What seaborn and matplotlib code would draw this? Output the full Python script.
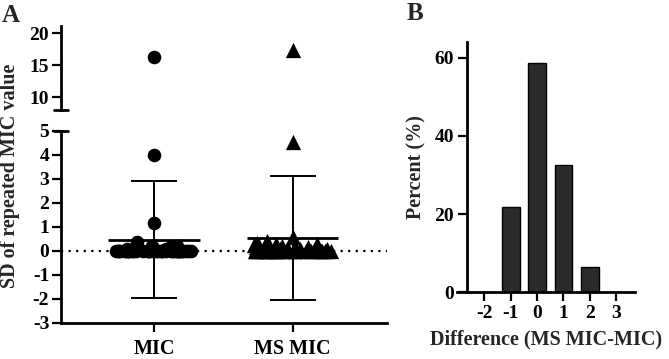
import numpy as np
import pandas as pd
import matplotlib
matplotlib.use("Agg")
import matplotlib.pyplot as plt
import seaborn as sns

# -----------------------------
# data
# -----------------------------
groups = ["MIC", "MS MIC"]

# SD of repeated MIC values, panel A
mic_sd = [16.2, 4.0, 1.15, 0.38, 0.2, 0.2, 0.15, 0.1, 0.1] + [0.0] * 38
ms_mic_sd = ([17.3, 4.55, 0.57, 0.4, 0.35, 0.3, 0.3, 0.25, 0.25,
              0.2, 0.2, 0.2, 0.15, 0.15, 0.15, 0.1, 0.1, 0.1, 0.1, 0.1]
             + [0.0] * 27)

# panel B: difference (MS MIC - MIC) distribution
diff_labels = ["-2", "-1", "0", "1", "2", "3"]
diff_percent = [0.0, 21.7, 58.7, 32.6, 6.5, 0.0]

markers = {"MIC": "o", "MS MIC": "^"}
marker_sizes = {"MIC": 9.8, "MS MIC": 11.0}

# -----------------------------
# style
# -----------------------------
sns.set_theme(style="ticks")
plt.rcParams["font.family"] = ["Liberation Serif", "DejaVu Serif"]
plt.rcParams["font.weight"] = "bold"
plt.rcParams["axes.labelweight"] = "bold"
plt.rcParams["axes.unicode_minus"] = False
plt.rcParams["axes.linewidth"] = 2.0
plt.rcParams["xtick.major.width"] = 1.6
plt.rcParams["ytick.major.width"] = 1.6
plt.rcParams["xtick.major.size"] = 6.5
plt.rcParams["ytick.major.size"] = 6.5
plt.rcParams["xtick.color"] = "black"
plt.rcParams["ytick.color"] = "black"
plt.rcParams["axes.edgecolor"] = "black"

TICK_FS = 14
LABEL_FS = 14.5

long_df = pd.DataFrame({
    "Group": ["MIC"] * len(mic_sd) + ["MS MIC"] * len(ms_mic_sd),
    "SD": mic_sd + ms_mic_sd,
})

fig = plt.figure(figsize=(6.69, 3.59), dpi=100)
ax_top = fig.add_axes([0.0912, 0.6936, 0.4873, 0.2340])
ax_bot = fig.add_axes([0.0912, 0.1003, 0.4873, 0.5348])
ax_b = fig.add_axes([0.6831, 0.1858, 0.2661, 0.6972])

np.random.seed(7)


def draw_scatter(ax):
    for g in groups:
        sub = long_df[long_df["Group"] == g]
        dense = sub[sub["SD"] < 0.5]
        lone = sub[sub["SD"] >= 0.5]
        sns.stripplot(data=dense, x="Group", y="SD", order=groups,
                      marker=markers[g], color="black", size=marker_sizes[g],
                      jitter=0.28, linewidth=0, zorder=3, ax=ax)
        sns.stripplot(data=lone, x="Group", y="SD", order=groups,
                      marker=markers[g], color="black", size=marker_sizes[g],
                      jitter=False, linewidth=0, zorder=3, ax=ax)


draw_scatter(ax_top)
draw_scatter(ax_bot)

# mean line + SD whiskers
for i, g in enumerate(groups):
    vals = long_df.loc[long_df["Group"] == g, "SD"].to_numpy()
    m = vals.mean()
    sd = vals.std(ddof=1)
    ax_bot.hlines(m, i - 0.33, i + 0.33, color="black", lw=2.0, zorder=4)
    ax_bot.errorbar(i, m, yerr=sd, fmt="none", ecolor="black",
                    elinewidth=1.4, capsize=16.5, capthick=1.4, zorder=2)

ax_bot.axhline(0, color="black", lw=1.6, ls=(0, (1, 2.4)), zorder=1)

for ax in (ax_top, ax_bot):
    ax.set_xlim(-0.67, 1.68)
    ax.set_xlabel("")
    ax.set_ylabel("")
    sns.despine(ax=ax)
    ax.tick_params(axis="y", labelsize=TICK_FS, pad=2)

ax_top.set_ylim(8.0, 21.1)
ax_top.set_yticks([10, 15, 20])
ax_top.spines["bottom"].set_visible(False)
ax_top.tick_params(axis="x", bottom=False, labelbottom=False)

ax_bot.set_ylim(-3, 5)
ax_bot.set_yticks(range(-3, 6))
ax_bot.tick_params(axis="x", labelsize=LABEL_FS, pad=5)
ax_bot.set_xticks(range(len(groups)))
ax_bot.set_xticklabels(groups)

# break marks
ax_top.plot([-0.02, 0.02], [0, 0], transform=ax_top.transAxes,
            color="black", lw=2, clip_on=False)
ax_bot.plot([-0.02, 0.02], [1, 1], transform=ax_bot.transAxes,
            color="black", lw=2, clip_on=False)

fig.text(0.015, 0.51, "SD of repeated MIC value", rotation=90,
         ha="center", va="center", fontsize=LABEL_FS, fontweight="bold")

# -----------------------------
# panel B
# -----------------------------
b_df = pd.DataFrame({"Diff": diff_labels, "Percent": diff_percent})
sns.barplot(data=b_df, x="Diff", y="Percent", order=diff_labels,
            color="#2b2b2b", edgecolor="black", linewidth=1.0,
            width=0.67, saturation=1, ax=ax_b)
ax_b.set_xlim(-1.04, 5.72)
ax_b.set_ylim(0, 64)
ax_b.set_yticks([0, 20, 40, 60])
sns.despine(ax=ax_b)
ax_b.spines["left"].set_position(("data", -0.66))
ax_b.tick_params(axis="both", labelsize=TICK_FS, pad=3)
ax_b.set_ylabel("")
ax_b.set_xlabel("Difference (MS MIC-MIC)", fontsize=LABEL_FS,
                fontweight="bold", labelpad=5)
fig.text(0.623, 0.535, "Percent (%)", rotation=90,
         ha="center", va="center", fontsize=LABEL_FS, fontweight="bold")

# panel letters
fig.text(0.003, 0.99, "A", fontsize=18, fontweight="bold", va="top")
fig.text(0.608, 0.995, "B", fontsize=18, fontweight="bold", va="top")

fig.savefig("out.png", dpi=100)
